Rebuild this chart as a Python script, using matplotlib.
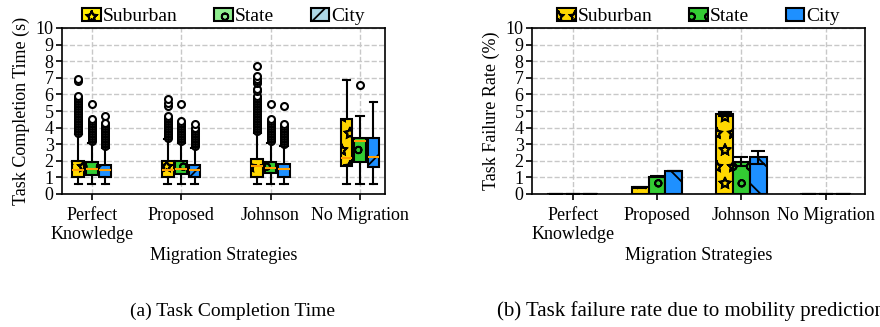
"""Task completion time (box plots) and task failure rate (bars) per migration strategy."""
import matplotlib
matplotlib.use("Agg")
import matplotlib.hatch
import matplotlib.pyplot as plt
from matplotlib.patches import Patch

plt.rcParams["font.family"] = ["Liberation Serif", "DejaVu Serif"]
plt.rcParams["font.size"] = 13
plt.rcParams["hatch.color"] = "black"
plt.rcParams["hatch.linewidth"] = 1.3
# outlined stars instead of solid ones
matplotlib.hatch.Stars.filled = False

strategies = ["Perfect\nKnowledge", "Proposed", "Johnson", "No Migration"]
regions = ["Suburban", "State", "City"]

# box statistics per region, one entry per strategy: (whislo, q1, med, q3, whishi)
suburban_box = [(0.6, 1.0, 1.45, 2.0, 3.6), (0.6, 1.0, 1.45, 1.97, 3.3),
                (0.6, 1.05, 1.7, 2.1, 3.7), (0.6, 1.7, 2.15, 4.5, 6.85)]
state_box = [(0.6, 1.16, 1.5, 1.95, 3.1), (0.6, 1.2, 1.5, 1.97, 3.1),
             (0.6, 1.25, 1.55, 1.95, 3.1), (0.6, 1.95, 3.2, 3.4, 4.7)]
city_box = [(0.6, 1.0, 1.45, 1.73, 2.8), (0.6, 1.0, 1.45, 1.73, 2.8),
            (0.6, 1.05, 1.5, 1.8, 2.9), (0.6, 1.65, 2.2, 3.4, 5.55)]

suburban_fliers = [
    [3.7, 3.8, 3.9, 4.0, 4.1, 4.2, 4.3, 4.4, 4.5, 4.6, 4.7, 4.8, 4.9, 5.0,
     5.1, 5.2, 5.3, 5.4, 5.5, 5.6, 5.7, 5.8, 5.9, 6.8, 6.9],
    [3.4, 3.5, 3.6, 3.7, 3.8, 3.9, 4.0, 4.1, 4.2, 4.3, 4.4, 4.5, 4.6, 4.7,
     5.3, 5.5, 5.7],
    [3.8, 3.9, 4.0, 4.1, 4.2, 4.3, 4.4, 4.5, 4.6, 4.7, 4.8, 4.9, 5.0, 5.1,
     5.2, 5.3, 5.4, 5.5, 5.6, 5.7, 5.8, 5.9, 6.2, 6.3, 6.7, 6.8, 6.9, 7.1, 7.7],
    [],
]
state_fliers = [
    [3.2, 3.3, 3.4, 3.5, 3.6, 3.7, 3.8, 3.9, 4.0, 4.1, 4.2, 4.3, 4.4, 4.5, 5.4],
    [3.2, 3.3, 3.4, 3.5, 3.6, 3.7, 3.8, 3.9, 4.0, 4.1, 4.2, 4.3, 4.4, 5.4],
    [3.2, 3.3, 3.4, 3.5, 3.6, 3.7, 3.8, 3.9, 4.0, 4.1, 4.2, 4.3, 4.4, 4.5, 5.4],
    [6.55],
]
city_fliers = [
    [2.9, 3.0, 3.1, 3.2, 3.3, 3.4, 3.5, 3.6, 3.7, 3.8, 3.9, 4.0, 4.1, 4.2, 4.3, 4.7],
    [2.9, 3.0, 3.1, 3.2, 3.3, 3.4, 3.5, 3.6, 3.7, 3.8, 3.9, 4.0, 4.2],
    [3.0, 3.1, 3.2, 3.3, 3.4, 3.5, 3.6, 3.7, 3.8, 3.9, 4.0, 4.1, 4.2, 5.3],
    [],
]

# failure rate (%) and its error
suburban_fail = [0.02, 0.4, 4.8, 0.02]
state_fail = [0.02, 1.05, 1.95, 0.02]
city_fail = [0.02, 1.4, 2.2, 0.02]
suburban_err = [0.0, 0.05, 0.12, 0.0]
state_err = [0.0, 0.05, 0.25, 0.0]
city_err = [0.0, 0.0, 0.4, 0.0]

box_colors = ["#FFD700", "#33CC33", "#1E90FF"]
legend_a_colors = ["#FFEE00", "#90EE90", "#ADD8E6"]
box_hatches = ["*", "o", "/"]
bar_hatches = ["*", "o", "\\"]

fig = plt.figure(figsize=(8.8, 3.27), dpi=100)
ax1 = fig.add_axes([62 / 880, 133 / 327, 323 / 880, 166 / 327])
ax2 = fig.add_axes([532 / 880, 133 / 327, 333 / 880, 166 / 327])

legend_kw = dict(loc="lower center", bbox_to_anchor=(0.5, 0.97), ncol=3,
                 frameon=False, fontsize=14, handlelength=0.95,
                 handletextpad=0.1, columnspacing=1.9, borderaxespad=0)

# ---- (a) box plots ----
offsets = [-0.15, 0.0, 0.15]
for boxes, fliers, off, col, hat in zip(
        [suburban_box, state_box, city_box],
        [suburban_fliers, state_fliers, city_fliers],
        offsets, box_colors, box_hatches):
    stats = []
    for (lo, q1, med, q3, hi), fl in zip(boxes, fliers):
        stats.append(dict(whislo=lo, q1=q1, med=med, q3=q3, whishi=hi, fliers=fl))
    pos = [i + 1 + off for i in range(len(stats))]
    art = ax1.bxp(stats, positions=pos, widths=0.13, patch_artist=True,
                  showfliers=True, capwidths=0.08,
                  boxprops=dict(facecolor=col, edgecolor="black", linewidth=1.5),
                  medianprops=dict(color="#FFA000", linewidth=1.5),
                  whiskerprops=dict(color="black", linewidth=1.5),
                  capprops=dict(color="black", linewidth=1.5),
                  flierprops=dict(marker="o", markerfacecolor="white",
                                  markeredgecolor="black", markersize=5,
                                  markeredgewidth=1.5))
    for b in art["boxes"]:
        b.set_hatch(hat)

ax1.set_xlim(0.668, 4.28)
ax1.set_ylim(0, 10)
ax1.set_xticks([1, 2, 3, 4])
ax1.set_xticklabels(strategies)
ax1.set_yticks(range(11))
ax1.set_ylabel("Task Completion Time (s)")
ax1.set_xlabel("Migration Strategies", labelpad=3)
ax1.grid(True, color="#C8C8C8", linestyle="--", linewidth=1)
ax1.set_axisbelow(True)
handles_a = [Patch(facecolor=c, edgecolor="black", hatch=h, linewidth=1.5, label=r)
             for c, h, r in zip(legend_a_colors, box_hatches, regions)]
ax1.legend(handles=handles_a, **legend_kw)

# ---- (b) bars ----
x = [0, 1, 2, 3]
bw = 0.2
for vals, errs, off, col, hat, r in zip(
        [suburban_fail, state_fail, city_fail],
        [suburban_err, state_err, city_err],
        [-bw, 0.0, bw], box_colors, bar_hatches, regions):
    ax2.bar([i + off for i in x], vals, width=bw, color=col, edgecolor="black",
            linewidth=1.5, hatch=hat, label=r, zorder=3,
            yerr=errs, capsize=5,
            error_kw=dict(elinewidth=1.5, capthick=1.5, ecolor="black"))

ax2.set_xlim(-0.483, 3.466)
ax2.set_ylim(0, 10)
ax2.set_xticks(x)
ax2.set_xticklabels(strategies)
ax2.set_yticks(range(11))
ax2.set_ylabel("Task Failure Rate (%)")
ax2.set_xlabel("Migration Strategies", labelpad=3)
ax2.grid(True, color="#C8C8C8", linestyle="--", linewidth=1)
ax2.set_axisbelow(True)
ax2.legend(**legend_kw)

for ax in (ax1, ax2):
    for s in ax.spines.values():
        s.set_linewidth(1.2)
    ax.tick_params(direction="out", length=4, width=1.2, pad=2)
    ax.tick_params(axis="x", pad=5)

fig.text(232 / 880, 1 - 311 / 327, "(a) Task Completion Time", ha="center",
         va="center", fontsize=14)
fig.text(497 / 880, 1 - 311 / 327, "(b) Task failure rate due to mobility prediction",
         ha="left", va="center", fontsize=15)

fig.savefig("out.png", dpi=100)
